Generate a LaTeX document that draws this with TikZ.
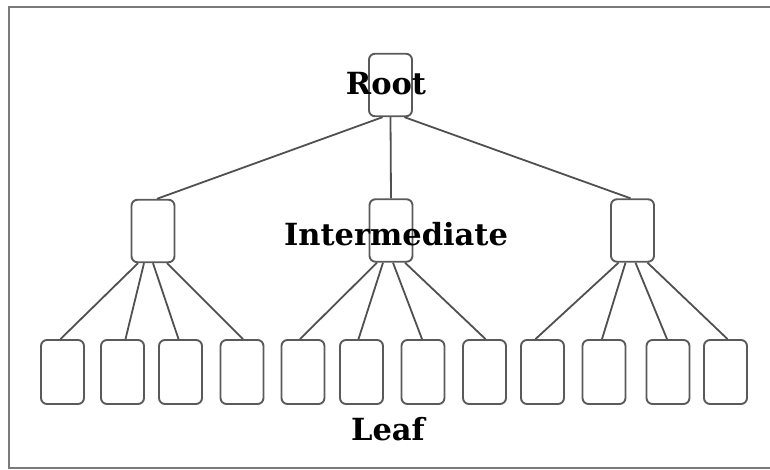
\documentclass[tikz,border=0pt]{standalone}
\usepackage{fontspec}
\setmainfont{DejaVu Serif}
\definecolor{boxgray}{HTML}{5A5A5A}
\definecolor{linegray}{HTML}{505050}
\definecolor{framegray}{HTML}{7A7A7A}
\begin{document}
\begin{tikzpicture}[x=1pt,y=-1pt,
  box/.style={draw=boxgray, line width=1.9pt, rounded corners=6pt, minimum width=43pt, minimum height=62.5pt, inner sep=0pt},
  leafbox/.style={box, minimum height=64pt},
  conn/.style={draw=linegray, line width=1.8pt},
  lbl/.style={font=\bfseries\fontsize{30.5}{36}\selectfont, text=black, inner sep=0pt, anchor=base}]
\useasboundingbox (0,0) rectangle (770,470);
\draw[framegray, line width=2.4pt] (9,7) rectangle (780,468);
% root
\node[box] (root) at (390.5,85) {};
% intermediates
\node[box] (i1) at (153,231) {};
\node[box] (i2) at (391,230.5) {};
\node[box] (i3) at (632.5,230.5) {};
% leaves
\foreach \n/\x in {1/62.5,2/122.5,3/180.5,4/242,5/303,6/361.5,7/423,8/484.5,9/542.5,10/604,11/668,12/725.5}
  \node[leafbox] (l\n) at (\x,372) {};
% root connectors
\draw[conn] ([xshift=-8pt]root.south) -- ([xshift=4pt]i1.north);
\draw[conn] (root.south) -- (i2.north);
\draw[conn] ([xshift=14pt]root.south) -- ([xshift=-2pt]i3.north);
% intermediate connectors
\draw[conn] ([xshift=-15pt]i1.south) -- ([xshift=-2pt]l1.north);
\draw[conn] ([xshift=-9pt]i1.south) -- ([xshift=3pt]l2.north);
\draw[conn] ([xshift=0pt]i1.south) -- ([xshift=-2pt]l3.north);
\draw[conn] ([xshift=14pt]i1.south) -- ([xshift=1pt]l4.north);
\draw[conn] ([xshift=-14pt]i2.south) -- ([xshift=-3pt]l5.north);
\draw[conn] ([xshift=-8pt]i2.south) -- ([xshift=-3pt]l6.north);
\draw[conn] ([xshift=2pt]i2.south) -- ([xshift=-1pt]l7.north);
\draw[conn] ([xshift=14pt]i2.south) -- ([xshift=1pt]l8.north);
\draw[conn] ([xshift=-14pt]i3.south) -- ([xshift=-7pt]l9.north);
\draw[conn] ([xshift=-7pt]i3.south) -- ([xshift=-2pt]l10.north);
\draw[conn] ([xshift=3pt]i3.south) -- ([xshift=-1pt]l11.north);
\draw[conn] ([xshift=15pt]i3.south) -- ([xshift=2pt]l12.north);
% labels
\node[lbl] (troot) at (386,95) {Root};
\node[lbl] (tint) at (396,245) {Intermediate};
\node[lbl] (tleaf) at (388,440) {Leaf};
\end{tikzpicture}
\end{document}
